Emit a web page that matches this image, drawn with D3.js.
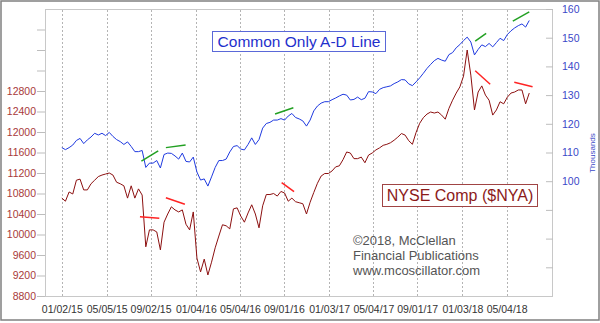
<!DOCTYPE html>
<html><head><meta charset="utf-8">
<script src="https://cdn.jsdelivr.net/npm/d3@7"></script>
<style>body{margin:0;background:#fff;} svg{display:block;font-family:Arial,"Liberation Sans",sans-serif;}</style>
</head><body><svg id="c" width="600" height="323"></svg>
<script>
// ---- data ----
const startDate = "2015-01-02";
const stepDays = 10;
const adValues = [111.7,111.0,111.7,112.6,114.2,114.9,113.1,114.4,115.4,116.7,
116.1,116.7,115.9,117.0,115.6,114.5,113.8,112.8,113.7,112.1,
110.3,110.3,110.7,104.8,106.3,106.3,107.2,104.6,109.3,109.8,
109.7,108.8,107.7,109.8,106.9,106.7,108.4,103.2,100.4,100.8,
98.3,101.5,104.8,107.2,107.2,107.7,110.2,112.1,112.4,111.2,
110.9,112.8,115.1,112.8,114.5,118.5,120.1,120.5,121.3,121.3,
121.8,121.3,122.7,123.6,122.2,121.7,121.0,119.2,121.3,124.5,
126.2,127.2,127.7,127.7,128.4,129.0,129.7,130.3,130.0,128.3,
128.5,129.3,128.4,128.9,131.2,131.1,130.5,132.0,132.6,132.9,
133.2,134.0,134.6,135.4,135.3,133.9,133.3,134.6,136.0,137.6,
139.3,140.7,142.0,142.8,142.2,141.8,144.1,144.8,146.5,147.6,
149.0,150.2,148.5,144.0,145.9,147.5,146.9,148.0,146.8,148.3,
149.8,149.0,151.1,152.4,153.4,154.2,154.8,153.7,156.0];
const nyaValues = [10710,10650,10830,10790,11060,11080,10870,10870,10990,11060,
11130,11160,11180,11200,11160,11020,10990,10950,10710,10950,
10710,10890,10770,9760,10090,10090,10050,9700,10240,10400,
10540,10480,10440,10480,10200,10090,10440,9540,9270,9520,
9210,9460,9740,9970,10190,10170,10110,10500,10520,10360,
10240,10420,10580,10400,10130,10560,10780,10780,10800,10750,
10840,10810,10650,10710,10640,10620,10600,10400,10630,10820,
11000,11140,11190,11190,11240,11320,11340,11460,11610,11590,
11480,11480,11510,11400,11550,11590,11650,11690,11740,11760,
11790,11840,11900,11970,11940,11830,11760,11990,12170,12280,
12350,12390,12370,12390,12330,12250,12460,12620,12760,12880,
13090,13600,13110,12430,12780,12900,12720,12620,12330,12430,
12590,12550,12680,12760,12780,12820,12820,12550,12760];
const dateTicks = ["2015-01-02","2015-05-05","2015-09-02","2016-01-04","2016-05-04","2016-09-01",
  "2017-01-03","2017-05-04","2017-09-01","2018-01-03","2018-05-04"];
const nyaTicks = [8800,9200,9600,10000,10400,10800,11200,11600,12000,12400,12800,13200,13600,14000];
const nyaLabelMax = 12800;
const adTicks = [70,80,90,100,110,120,130,140,150,160];
const adLabelMin = 100;
const adDivergences = [
  ["2015-08-08",107.0,"2015-09-23",110.6],
  ["2015-10-14",111.7,"2015-12-07",112.6],
  ["2016-08-08",123.4,"2016-09-27",125.6],
  ["2018-02-07",148.8,"2018-03-09",151.5],
  ["2018-05-21",155.8,"2018-07-05",159.0]];
const nyaDivergences = [
  ["2015-08-04",10347,"2015-09-26",10316],
  ["2015-10-14",10718,"2015-12-05",10589],
  ["2016-08-26",11011,"2016-09-29",10835],
  ["2018-02-07",13196,"2018-03-20",12931],
  ["2018-05-25",12970,"2018-07-14",12884]];

// ---- drawing ----
const parse = d3.timeParse("%Y-%m-%d");
const svg = d3.select("#c");
const P = {l:45, r:553, t:9, b:296};
const x = d3.scaleTime().domain([parse("2014-11-17"), parse("2018-09-08")]).range([P.l, P.r]);
const yL = d3.scaleLinear().domain([8800,14400]).range([P.b, P.t]);
const yR = d3.scaleLinear().domain([60,160]).range([P.b, P.t]);
const t0 = parse(startDate);
const dateAt = i => d3.timeDay.offset(t0, i*stepDays);

svg.append("rect").attr("x",1).attr("y",1).attr("width",598).attr("height",319)
  .attr("fill","#fff").attr("stroke","#808080").attr("stroke-width",1.5);
svg.append("rect").attr("x",P.l+0.5).attr("y",P.t+0.5).attr("width",P.r-P.l-1).attr("height",P.b-P.t)
  .attr("fill","#fff").attr("stroke","#c8c8c8");

// gridlines
svg.append("g").selectAll("line").data(dateTicks).join("line")
  .attr("x1",d=>Math.round(x(parse(d)))+0.5).attr("x2",d=>Math.round(x(parse(d)))+0.5)
  .attr("y1",P.t+1).attr("y2",P.b)
  .attr("stroke","#b4b4b4").attr("stroke-dasharray","2,2");

// axes
const gl = svg.append("g").attr("transform",`translate(${P.l},0)`)
  .call(d3.axisLeft(yL).tickValues(nyaTicks).tickSize(8).tickPadding(1)
    .tickFormat(d=> d<=nyaLabelMax ? d : ""));
gl.select(".domain").remove();
gl.selectAll(".tick line").attr("stroke","#bdbdbd");
gl.selectAll("text").attr("fill","#a83a3a").style("font-size","10.5px");

const gr = svg.append("g").attr("transform",`translate(${P.r},0)`)
  .call(d3.axisRight(yR).tickValues(adTicks).tickSize(-7).tickPadding(9)
    .tickFormat(d=> d>=adLabelMin ? d : ""));
gr.select(".domain").remove();
gr.selectAll(".tick line").attr("stroke","#bdbdbd");
gr.selectAll("text").attr("fill","#3a48c8").style("font-size","10.5px");

const gb = svg.append("g").attr("transform",`translate(0,${P.b})`)
  .call(d3.axisBottom(x).tickValues(dateTicks.map(parse)).tickSize(0).tickPadding(10)
    .tickFormat(d3.timeFormat("%m/%d/%y")));
gb.select(".domain").remove();
gb.selectAll("text").attr("fill","#333").style("font-size","10.5px");

svg.append("text").attr("transform","translate(595,153) rotate(-90)")
  .attr("text-anchor","middle").attr("fill","#3a48c8").style("font-size","8px").text("Thousands");

// lines
const adLine = d3.line().x((d,i)=>x(dateAt(i))).y(d=>yR(d));
const nyaLine = d3.line().x((d,i)=>x(dateAt(i))).y(d=>yL(d));
svg.append("path").datum(adValues).attr("d",adLine).attr("fill","none")
  .attr("stroke","#1f3ae0").attr("stroke-width",1).attr("stroke-linejoin","round");
svg.append("path").datum(nyaValues).attr("d",nyaLine).attr("fill","none")
  .attr("stroke","#8c1010").attr("stroke-width",1).attr("stroke-linejoin","round");

// divergence segments
svg.append("g").selectAll("line").data(adDivergences).join("line")
  .attr("x1",d=>x(parse(d[0]))).attr("y1",d=>yR(d[1]))
  .attr("x2",d=>x(parse(d[2]))).attr("y2",d=>yR(d[3]))
  .attr("stroke","#22a022").attr("stroke-width",1.5);
svg.append("g").selectAll("line").data(nyaDivergences).join("line")
  .attr("x1",d=>x(parse(d[0]))).attr("y1",d=>yL(d[1]))
  .attr("x2",d=>x(parse(d[2]))).attr("y2",d=>yL(d[3]))
  .attr("stroke","#ff2424").attr("stroke-width",1.5);

// labels
svg.append("rect").attr("x",212.5).attr("y",31.5).attr("width",173).attr("height",20)
  .attr("fill","#fff").attr("stroke","#5a68d8");
svg.append("text").attr("x",299).attr("y",47).attr("text-anchor","middle")
  .attr("fill","#1f30cc").style("font-size","15.5px").text("Common Only A-D Line");
svg.append("rect").attr("x",382.5).attr("y",184.5).attr("width",155).attr("height",22)
  .attr("fill","#fff").attr("stroke","#a04444");
svg.append("text").attr("x",460).attr("y",201).attr("text-anchor","middle")
  .attr("fill","#8b1a1a").style("font-size","16px").text("NYSE Comp ($NYA)");
const cr = ["\u00A92018, McClellan","Financial Publications","www.mcoscillator.com"];
svg.append("g").selectAll("text").data(cr).join("text")
  .attr("x",353).attr("y",(d,i)=>245+i*15).attr("fill","#555").style("font-size","13px").text(d=>d);
</script></body></html>
